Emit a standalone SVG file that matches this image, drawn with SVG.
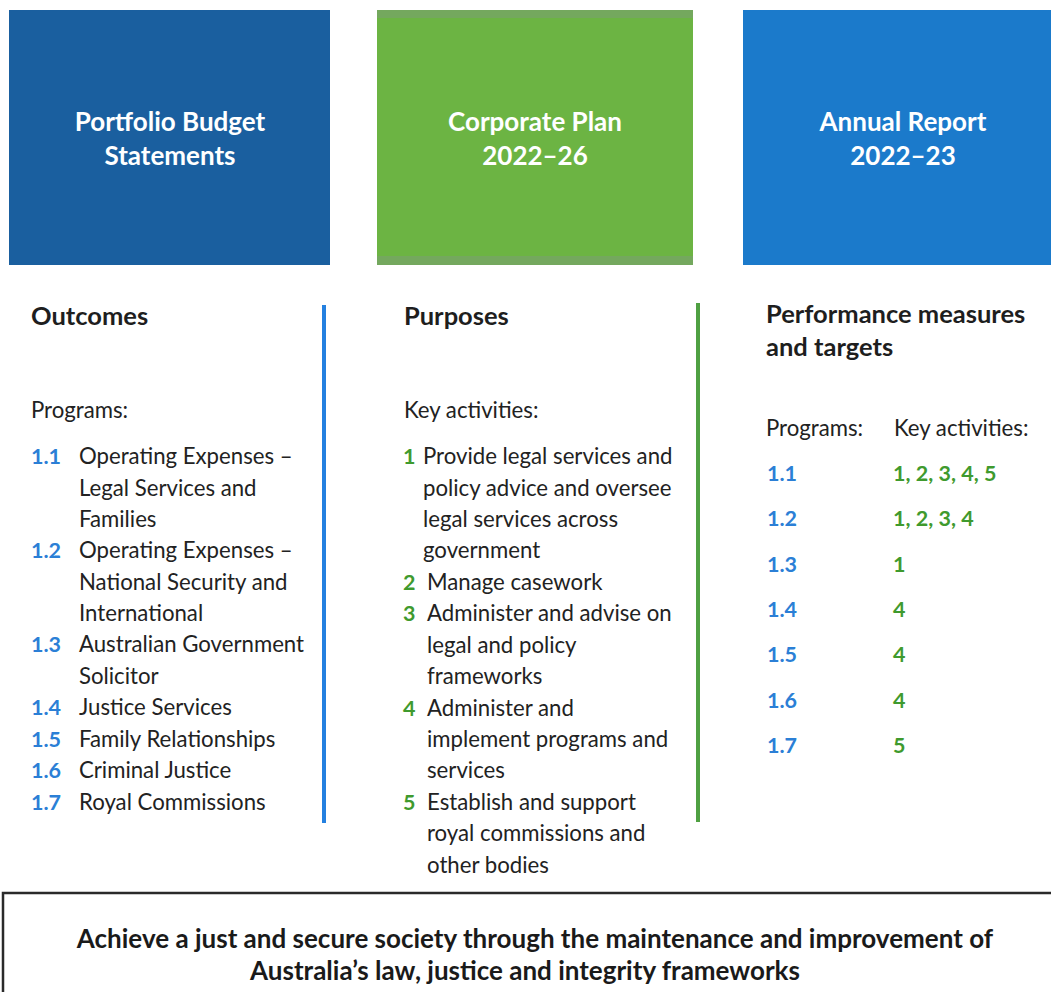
<svg xmlns="http://www.w3.org/2000/svg" width="1051" height="992" viewBox="0 0 1051 992">
  <style>
    text { font-family: Lato, "Open Sans", "Liberation Sans", sans-serif; }
    .box-title { fill: #ffffff; font-size: 26px; font-weight: 700; text-anchor: middle; }
    .head { fill: #1e1e1e; font-size: 25.5px; font-weight: 700; }
    .body { fill: #222222; font-size: 22.2px; }
    .prog { fill: #2b7fd6; font-size: 21.5px; font-weight: 700; }
    .act { fill: #3f9a2e; font-size: 21.5px; font-weight: 700; }
    .goal { fill: #1a1a1a; font-size: 26px; font-weight: 700; text-anchor: middle; }
  </style>

  <rect width="1051" height="992" fill="#ffffff"/>

  <!-- Document boxes -->
  <g id="pbs">
    <rect x="9" y="10" width="321" height="255" fill="#1a5f9f"/>
    <text class="box-title" x="170" y="131">Portfolio Budget</text>
    <text class="box-title" x="170" y="165">Statements</text>
  </g>
  <g id="corporate-plan">
    <rect x="377" y="10" width="316" height="255" fill="#6cb443"/>
    <rect x="377" y="10" width="316" height="8" fill="#74a85e"/>
    <rect x="377" y="256" width="316" height="9" fill="#74a85e"/>
    <text class="box-title" x="535" y="131">Corporate Plan</text>
    <text class="box-title" x="535" y="165">2022–26</text>
  </g>
  <g id="annual-report">
    <rect x="743" y="10" width="308" height="255" fill="#1b7acb"/>
    <text class="box-title" x="903" y="131">Annual Report</text>
    <text class="box-title" x="903" y="165">2022–23</text>
  </g>

  <!-- Column dividers -->
  <g id="dividers">
    <rect x="322" y="305" width="4" height="518" fill="#2480e0"/>
    <rect x="696" y="303" width="4" height="519" fill="#4fa042"/>
  </g>

  <!-- Outcomes column -->
  <g id="outcomes">
    <text class="head" x="31" y="325">Outcomes</text>
    <text class="body" x="31" y="418">Programs:</text>
    <text class="prog" x="31" y="464">1.1</text>
    <text class="body" x="79" y="464">Operating Expenses –</text>
    <text class="body" x="79" y="496">Legal Services and</text>
    <text class="body" x="79" y="527">Families</text>
    <text class="prog" x="31" y="558">1.2</text>
    <text class="body" x="79" y="558">Operating Expenses –</text>
    <text class="body" x="79" y="590">National Security and</text>
    <text class="body" x="79" y="621">International</text>
    <text class="prog" x="31" y="652">1.3</text>
    <text class="body" x="79" y="652">Australian Government</text>
    <text class="body" x="79" y="684">Solicitor</text>
    <text class="prog" x="31" y="715">1.4</text>
    <text class="body" x="79" y="715">Justice Services</text>
    <text class="prog" x="31" y="747">1.5</text>
    <text class="body" x="79" y="747">Family Relationships</text>
    <text class="prog" x="31" y="778">1.6</text>
    <text class="body" x="79" y="778">Criminal Justice</text>
    <text class="prog" x="31" y="810">1.7</text>
    <text class="body" x="79" y="810">Royal Commissions</text>
  </g>

  <!-- Purposes column -->
  <g id="purposes">
    <text class="head" x="404" y="325">Purposes</text>
    <text class="body" x="404" y="418">Key activities:</text>
    <text class="act" x="403" y="464">1</text>
    <text class="body" x="423" y="464">Provide legal services and</text>
    <text class="body" x="423" y="496">policy advice and oversee</text>
    <text class="body" x="423" y="527">legal services across</text>
    <text class="body" x="423" y="558">government</text>
    <text class="act" x="403" y="590">2</text>
    <text class="body" x="427" y="590">Manage casework</text>
    <text class="act" x="403" y="621">3</text>
    <text class="body" x="427" y="621">Administer and advise on</text>
    <text class="body" x="427" y="653">legal and policy</text>
    <text class="body" x="427" y="684">frameworks</text>
    <text class="act" x="403" y="716">4</text>
    <text class="body" x="427" y="716">Administer and</text>
    <text class="body" x="427" y="747">implement programs and</text>
    <text class="body" x="427" y="778">services</text>
    <text class="act" x="403" y="810">5</text>
    <text class="body" x="427" y="810">Establish and support</text>
    <text class="body" x="427" y="841">royal commissions and</text>
    <text class="body" x="427" y="873">other bodies</text>
  </g>

  <!-- Performance measures column -->
  <g id="performance">
    <text class="head" x="766" y="323">Performance measures</text>
    <text class="head" x="766" y="356">and targets</text>
    <text class="body" x="766" y="436">Programs:</text>
    <text class="body" x="894" y="436">Key activities:</text>
    <text class="prog" x="767" y="481">1.1</text>
    <text class="act" x="893" y="481">1, 2, 3, 4, 5</text>
    <text class="prog" x="767" y="526">1.2</text>
    <text class="act" x="893" y="526">1, 2, 3, 4</text>
    <text class="prog" x="767" y="572">1.3</text>
    <text class="act" x="893" y="572">1</text>
    <text class="prog" x="767" y="617">1.4</text>
    <text class="act" x="893" y="617">4</text>
    <text class="prog" x="767" y="662">1.5</text>
    <text class="act" x="893" y="662">4</text>
    <text class="prog" x="767" y="708">1.6</text>
    <text class="act" x="893" y="708">4</text>
    <text class="prog" x="767" y="753">1.7</text>
    <text class="act" x="893" y="753">5</text>
  </g>

  <!-- Overarching goal -->
  <g id="goal">
    <path d="M 3 1000 L 3 893 L 1060 893" fill="none" stroke="#2a2a2a" stroke-width="2.5"/>
    <text class="goal" x="535" y="948">Achieve a just and secure society through the maintenance and improvement of</text>
    <text class="goal" x="525" y="980">Australia’s law, justice and integrity frameworks</text>
  </g>
</svg>
